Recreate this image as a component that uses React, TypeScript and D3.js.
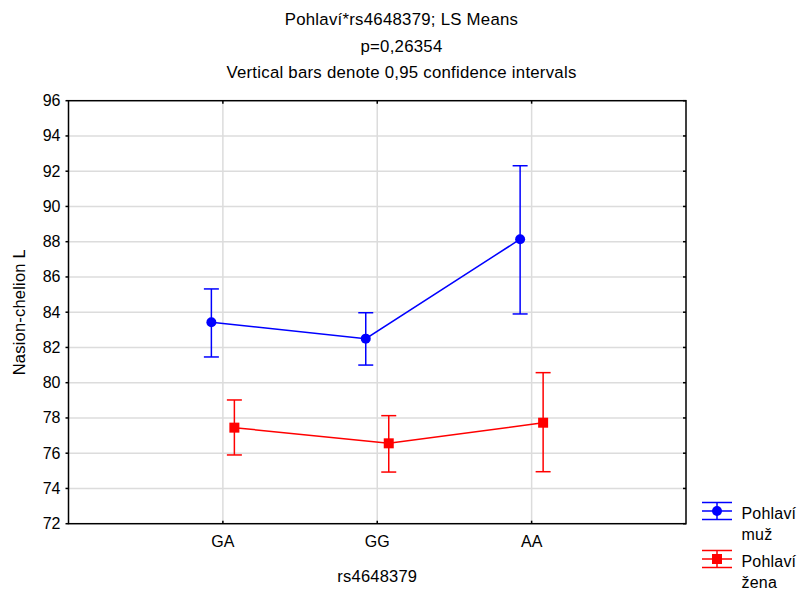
import React from "react";
import * as d3 from "d3";

const categories = ["GA", "GG", "AA"];
const yTicks = [72, 74, 76, 78, 80, 82, 84, 86, 88, 90, 92, 94, 96];

const muzMean = [83.43, 82.5, 88.14];
const muzLower = [81.46, 81.0, 83.9];
const muzUpper = [85.32, 83.97, 92.31];

const zenaMean = [77.45, 76.56, 77.73];
const zenaLower = [75.9, 74.93, 74.95];
const zenaUpper = [79.02, 78.13, 80.57];

const titleLines = [
  "Pohlaví*rs4648379; LS Means",
  "p=0,26354",
  "Vertical bars denote 0,95 confidence intervals",
];

const W = 803;
const H = 593;
const left = 68.5;
const right = 686;
const top = 100.7;
const bottom = 523.7;
const FONT = "'Liberation Sans', Arial, sans-serif";

type Series = {
  name: string[];
  color: string;
  mean: number[];
  lower: number[];
  upper: number[];
  offset: number;
  marker: "circle" | "square";
};

const series: Series[] = [
  { name: ["Pohlaví", "muž"], color: "#0000ff", mean: muzMean, lower: muzLower, upper: muzUpper, offset: -11.5, marker: "circle" },
  { name: ["Pohlaví", "žena"], color: "#ff0000", mean: zenaMean, lower: zenaLower, upper: zenaUpper, offset: 11.5, marker: "square" },
];

export default function App() {
  const x = d3.scalePoint<string>().domain(categories).range([left, right]).padding(1);
  const y = d3.scaleLinear().domain([72, 96]).range([bottom, top]);
  const cap = 7.5;

  const line = (s: Series) =>
    d3
      .line<number>()
      .x((_, i) => (x(categories[i]) as number) + s.offset)
      .y((v) => y(v))(s.mean) as string;

  const marker = (s: Series, cx: number, cy: number) =>
    s.marker === "circle" ? (
      <circle cx={cx} cy={cy} r={5} fill={s.color} />
    ) : (
      <rect x={cx - 5} y={cy - 5} width={10} height={10} fill={s.color} />
    );

  return (
    <svg width={W} height={H} style={{ position: "absolute", left: 0, top: 0, background: "#fff" }} fontFamily={FONT}>
      {/* title */}
      {titleLines.map((t, i) => (
        <text key={t} x={W / 2} y={25 + i * 26.5} textAnchor="middle" fontSize={16.8} letterSpacing={0.25} fill="#000">
          {t}
        </text>
      ))}

      {/* grid */}
      {yTicks.slice(1, -1).map((t) => (
        <line key={"gy" + t} x1={left} x2={right} y1={y(t)} y2={y(t)} stroke="#dcdcdc" strokeWidth={1.5} />
      ))}
      {categories.map((c) => (
        <line key={"gx" + c} x1={x(c)} x2={x(c)} y1={top} y2={bottom} stroke="#dcdcdc" strokeWidth={1.5} />
      ))}

      {/* frame */}
      <rect x={left} y={top} width={right - left} height={bottom - top} fill="none" stroke="#000" strokeWidth={1.5} />

      {/* y ticks */}
      {yTicks.map((t) => (
        <g key={"ty" + t}>
          <line x1={left - 3} x2={left} y1={y(t)} y2={y(t)} stroke="#000" strokeWidth={1.5} />
          <line x1={right - 3} x2={right} y1={y(t)} y2={y(t)} stroke="#000" strokeWidth={1.5} />
          <text x={left - 8} y={y(t) + 5.5} textAnchor="end" fontSize={16} fill="#000">
            {t}
          </text>
        </g>
      ))}

      {/* x ticks */}
      {categories.map((c) => (
        <g key={"tx" + c}>
          <line x1={x(c)} x2={x(c)} y1={top} y2={top + 3} stroke="#000" strokeWidth={1.5} />
          <line x1={x(c)} x2={x(c)} y1={bottom - 3} y2={bottom} stroke="#000" strokeWidth={1.5} />
          <text x={x(c)} y={bottom + 23.5} textAnchor="middle" fontSize={16} fill="#000">
            {c}
          </text>
        </g>
      ))}

      {/* axis titles */}
      <text x={(left + right) / 2} y={582} textAnchor="middle" fontSize={16.5} letterSpacing={0.2} fill="#000">
        rs4648379
      </text>
      <text
        transform={`translate(25, ${(top + bottom) / 2}) rotate(-90)`}
        textAnchor="middle"
        fontSize={16.5}
        letterSpacing={0.2}
        fill="#000"
      >
        Nasion-chelion L
      </text>

      {/* series */}
      {series.map((s) => (
        <g key={s.name.join(" ")}>
          <path d={line(s)} fill="none" stroke={s.color} strokeWidth={1.5} />
          {categories.map((c, i) => {
            const cx = (x(c) as number) + s.offset;
            return (
              <g key={c}>
                <line x1={cx} x2={cx} y1={y(s.lower[i])} y2={y(s.upper[i])} stroke={s.color} strokeWidth={1.5} />
                <line x1={cx - cap} x2={cx + cap} y1={y(s.upper[i])} y2={y(s.upper[i])} stroke={s.color} strokeWidth={1.5} />
                <line x1={cx - cap} x2={cx + cap} y1={y(s.lower[i])} y2={y(s.lower[i])} stroke={s.color} strokeWidth={1.5} />
                {marker(s, cx, y(s.mean[i]))}
              </g>
            );
          })}
        </g>
      ))}

      {/* legend */}
      {series.map((s, k) => {
        const cy = 511 + k * 48;
        const x0 = 702;
        const x1 = 732;
        const mx = (x0 + x1) / 2;
        return (
          <g key={"lg" + k}>
            <line x1={x0} x2={x1} y1={cy - 8.5} y2={cy - 8.5} stroke={s.color} strokeWidth={1.5} />
            <line x1={x0} x2={x1} y1={cy} y2={cy} stroke={s.color} strokeWidth={1.5} />
            <line x1={x0} x2={x1} y1={cy + 8.5} y2={cy + 8.5} stroke={s.color} strokeWidth={1.5} />
            <line x1={mx} x2={mx} y1={cy - 8.5} y2={cy + 8.5} stroke={s.color} strokeWidth={1.5} />
            {marker(s, mx, cy)}
            <text x={741.5} y={cy + 7.5} fontSize={16} letterSpacing={0.2} fill="#000">
              {s.name[0]}
            </text>
            <text x={741.5} y={cy + 29} fontSize={16} letterSpacing={0.2} fill="#000">
              {s.name[1]}
            </text>
          </g>
        );
      })}
    </svg>
  );
}
